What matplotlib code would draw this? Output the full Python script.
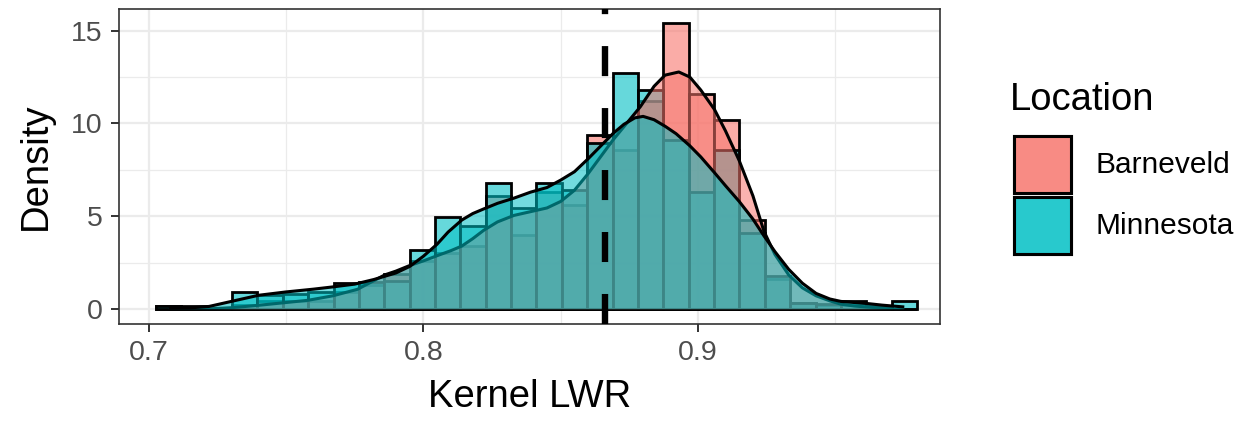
import numpy as np
import matplotlib.pyplot as plt
from matplotlib.patches import Rectangle
from matplotlib.colors import to_rgba

plt.rcParams['font.family'] = ['Liberation Sans', 'DejaVu Sans']

locations = ['Barneveld', 'Minnesota']
colors = ['#F8766D', '#00BFC4']

# 30 histogram bins shared by both locations
bin_start = 0.70265
bin_width = 0.009236
barneveld_hist = [0.18, 0.0, 0.0, 0.2, 0.45, 0.45, 0.45, 0.9, 1.3, 1.87,
                  2.6, 3.0, 3.39, 6.07, 4.0, 6.3, 5.6, 9.37, 8.57, 11.2,
                  15.39, 11.57, 10.18, 4.82, 1.6, 0.36, 0.2, 0.2, 0.0, 0.0]
minnesota_hist = [0.18, 0.18, 0.0, 0.93, 0.75, 0.8, 0.93, 1.39, 1.48, 1.5,
                  3.2, 4.96, 4.46, 6.82, 5.45, 6.79, 6.4, 8.93, 12.72, 11.8,
                  9.1, 6.3, 8.57, 4.11, 1.8, 0.36, 0.3, 0.45, 0.18, 0.45]

# kernel density estimates
barneveld_kx = [0.7073, 0.715, 0.722, 0.730, 0.740, 0.748, 0.758, 0.767, 0.776, 0.786,
                0.790, 0.795, 0.800, 0.805, 0.810, 0.814, 0.818, 0.822, 0.827, 0.833,
                0.839, 0.845, 0.850, 0.855, 0.860, 0.865, 0.869, 0.874, 0.879, 0.884,
                0.888, 0.893, 0.897, 0.901, 0.906, 0.910, 0.915, 0.920, 0.924, 0.928,
                0.933, 0.938, 0.943, 0.948, 0.952, 0.957, 0.962, 0.967, 0.971]
barneveld_ky = [0.0, 0.0, 0.02, 0.08, 0.21, 0.33, 0.48, 0.72, 1.07, 1.85,
                2.05, 2.35, 2.6, 2.88, 3.15, 3.4, 3.8, 4.25, 4.7, 5.05,
                5.25, 5.45, 5.8, 6.4, 7.3, 8.3, 9.1, 10.0, 10.9, 12.0,
                12.6, 12.77, 12.5, 11.8, 10.75, 9.6, 8.0, 6.1, 4.2, 2.95,
                1.85, 1.15, 0.72, 0.45, 0.27, 0.17, 0.11, 0.07, 0.05]
minnesota_kx = [0.7073, 0.715, 0.722, 0.731, 0.740, 0.750, 0.760, 0.767, 0.775, 0.782,
                0.790, 0.795, 0.800, 0.805, 0.809, 0.814, 0.818, 0.822, 0.827, 0.833,
                0.839, 0.845, 0.850, 0.855, 0.860, 0.865, 0.869, 0.873, 0.877, 0.880,
                0.884, 0.888, 0.892, 0.897, 0.901, 0.906, 0.910, 0.915, 0.920, 0.924,
                0.928, 0.933, 0.938, 0.943, 0.948, 0.952, 0.957, 0.962, 0.967, 0.971,
                0.9751]
minnesota_ky = [0.05, 0.07, 0.15, 0.45, 0.75, 0.93, 1.08, 1.2, 1.35, 1.6,
                1.95, 2.3, 2.85, 3.5, 4.15, 4.8, 5.15, 5.4, 5.7, 5.98,
                6.3, 6.55, 6.95, 7.4, 8.1, 8.85, 9.45, 9.95, 10.3, 10.38,
                10.2, 9.85, 9.45, 8.8, 8.2, 7.35, 6.65, 5.8, 4.85, 3.95,
                3.1, 2.15, 1.4, 0.85, 0.55, 0.42, 0.36, 0.3, 0.22, 0.17,
                0.12]

mean_lwr = 0.8663

hists = [barneveld_hist, minnesota_hist]
dens = [(barneveld_kx, barneveld_ky), (minnesota_kx, minnesota_ky)]

fig = plt.figure(figsize=(12.57, 4.23), dpi=100)
ax = fig.add_axes([0.0947, 0.2352, 0.6531, 0.7435])

edges = bin_start + bin_width * np.arange(len(barneveld_hist))
z = 2
for heights, col in zip(hists, colors):
    ax.bar(edges, heights, width=bin_width, align='edge',
           facecolor=to_rgba(col, 0.6), edgecolor='black', linewidth=2, zorder=z)
    z += 1
for (kx, ky), col in zip(dens, colors):
    ax.fill_between(kx, 0, ky, facecolor=to_rgba(col, 0.55), edgecolor='none', zorder=z)
    ax.plot(kx, ky, color='black', lw=2.2, zorder=z + 0.5, solid_capstyle='butt')
    z += 1

ax.axvline(mean_lwr, color='black', lw=4.6, linestyle=(0, (4.7, 5.0)), zorder=z)

ax.set_xlim(0.6892, 0.9881)
ax.set_ylim(-0.77, 16.16)
ax.set_xticks([0.7, 0.8, 0.9])
ax.set_xticks([0.75, 0.85, 0.95], minor=True)
ax.set_yticks([0, 5, 10, 15])
ax.set_yticks([2.5, 7.5, 12.5], minor=True)
ax.grid(which='major', color='#EBEBEB', lw=1.6)
ax.grid(which='minor', color='#EBEBEB', lw=0.9)
ax.set_axisbelow(True)
ax.tick_params(which='minor', length=0)
ax.tick_params(which='major', length=6, width=1.4, color='#333333',
               labelcolor='#4D4D4D', labelsize=20.5, pad=6)
for s in ax.spines.values():
    s.set_color('#333333')
    s.set_linewidth(1.2)

ax.set_xlabel('Kernel LWR', fontsize=27.5, labelpad=9)
ax.set_ylabel('Density', fontsize=27.5, labelpad=12)

# legend
W, H = 1257, 423
fig.text(1010 / W, 1 - 110 / H, 'Location', fontsize=27.5, va='baseline', ha='left')
key_tops = [135, 196]
for top, col, name in zip(key_tops, colors, locations):
    for a in (0.6, 0.6):
        fig.patches.append(Rectangle((1014 / W, 1 - (top + 58) / H), 57 / W, 57 / H,
                                     transform=fig.transFigure,
                                     facecolor=to_rgba(col, a), edgecolor='black', lw=2.2))
    fig.text(1095 / W, 1 - (top + 30) / H, name, fontsize=21.5, va='center', ha='left')

fig.savefig('out.png', dpi=100)
